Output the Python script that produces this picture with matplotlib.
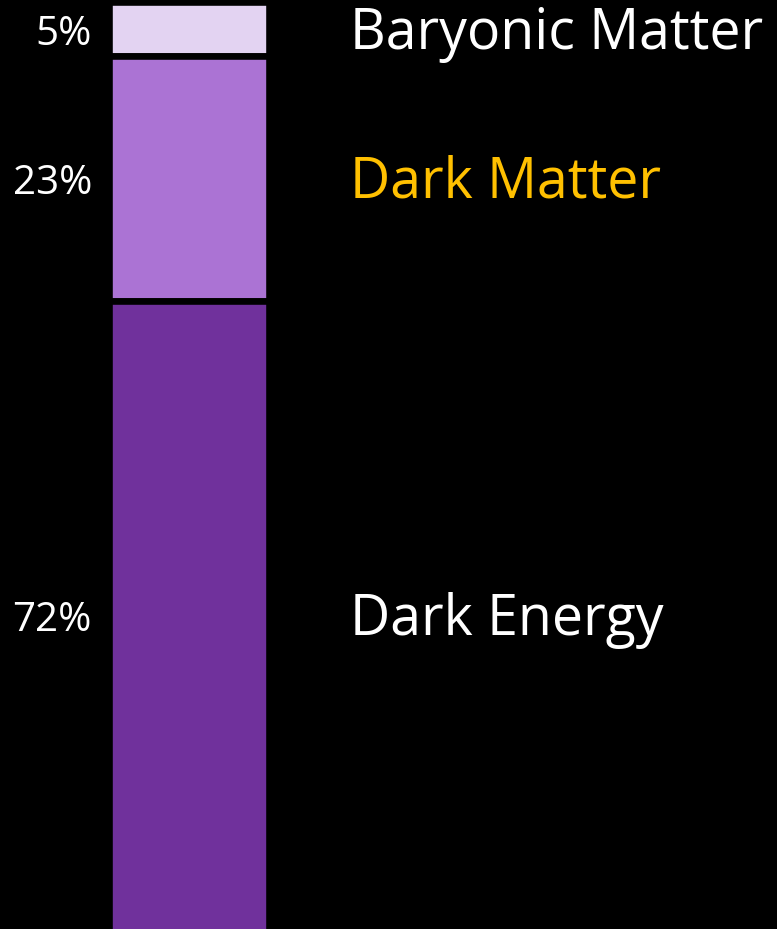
import numpy as np
import matplotlib.pyplot as plt

# composition of the universe, in percent
names = ["Baryonic Matter", "Dark Matter", "Dark Energy"]
shares = [5, 23, 72]
pct_labels = ["5%", "23%", "72%"]
name_colors = ["white", "#FFC000", "white"]
bar_colors = ["#E3D3F2", "#AB73D4", "#70319C"]

plt.rcParams['font.family'] = ['Open Sans', 'DejaVu Sans']

fig = plt.figure(figsize=(7.77, 9.291), dpi=100, facecolor="black")
ax = fig.add_axes([0, 0, 1, 1])
ax.set_facecolor("black")

# stack from the top: baryonic on top, dark energy at the bottom
tops = 100 - np.concatenate([[0], np.cumsum(shares)[:-1]])
bottoms = tops - np.array(shares)

ylo, yhi = 13.1, 100.24
ax.bar(189.2, shares, width=160.3, bottom=bottoms, color=bar_colors,
       edgecolor="black", linewidth=4.75)

for i in range(len(shares)):
    lo = max(bottoms[i], ylo)
    mid = (lo + tops[i]) / 2
    ax.annotate(pct_labels[i], (92, mid), xytext=(0, -11.5), textcoords="offset points",
                ha="right", va="baseline", color="white", fontsize=29)
    ax.annotate(names[i], (350, mid), xytext=(0, -14), textcoords="offset points",
                ha="left", va="baseline", color=name_colors[i], fontsize=40)

ax.set_xlim(0, 777)
ax.set_ylim(ylo, yhi)
ax.axis("off")

fig.savefig("out.png", dpi=100, facecolor="black")
